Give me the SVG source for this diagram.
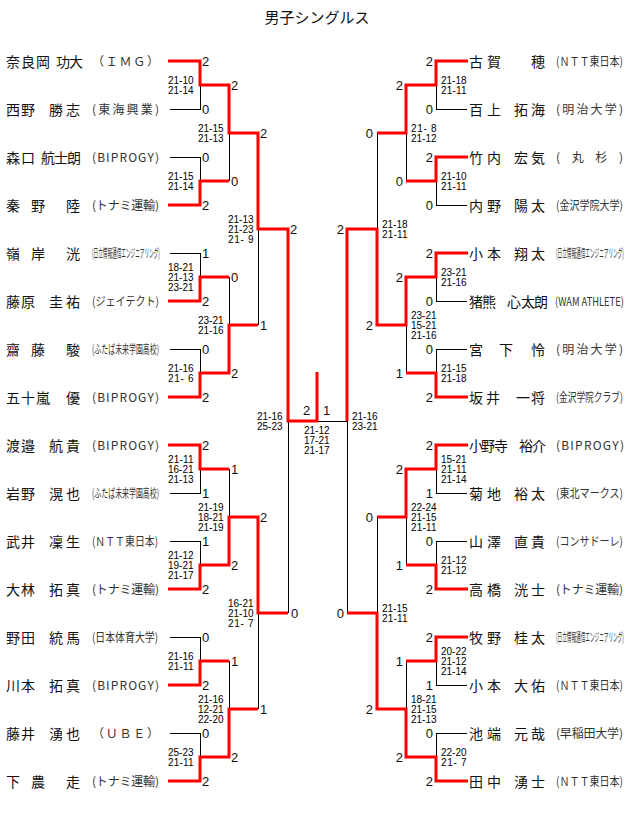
<svg xmlns="http://www.w3.org/2000/svg" width="631" height="832" viewBox="0 0 631 832">
<style>
.ttl{font-family:"Noto Sans CJK JP","Noto Sans CJK SC",sans-serif;font-size:15px;fill:#111;text-anchor:middle}
.nm{font-family:"Noto Sans CJK JP","Noto Sans CJK SC",sans-serif;font-size:14px;fill:#111}
.tm{font-family:"Noto Sans CJK JP","Noto Sans CJK SC",sans-serif;font-size:12px;fill:#333}
.sc{font-family:"Liberation Sans",Arial,sans-serif;font-size:13px;fill:#111}
.e{text-anchor:end}
.gs{font-family:"Liberation Sans",Arial,sans-serif;font-size:10px;fill:#000}
.r{stroke:#ff0000;stroke-width:3;fill:none;stroke-linejoin:miter}
.k{stroke:#000;stroke-width:1;fill:none;shape-rendering:crispEdges}
</style>
<rect width="631" height="832" fill="#fff"/>
<text class="ttl" x="317" y="23">男子シングルス</text>

<g id="connectors">
<g id="lines-black">
<path class="k" d="M170 109H200V85M170 157H200V181M170 253H200V277M170 349H200V373M170 493H200V469M170 541H200V565M170 637H200V661M170 733H200V757"/>
<path class="k" d="M229 181V133M229 277V325M229 469V517M229 661V709M258 325V229M258 709V613M288 613V421M288 421H347"/>
<path class="k" d="M467 109H436V85M467 205H436V181M467 301H436V277M467 349H436V373M467 493H436V469M467 541H436V565M467 685H436V661M467 733H436V757"/>
<path class="k" d="M406 181V133M406 373V325M406 565V517M406 661V709M377 133V229M377 517V613M347 613V421"/>
</g>
<g id="lines-red">
<path class="r" d="M168 61H200V85H229V133H258V229H288V421H317V372"/>
<path class="r" d="M168 205H200V181H229"/>
<path class="r" d="M168 301H200V277H229"/>
<path class="r" d="M168 397H200V373H229V325H258"/>
<path class="r" d="M168 445H200V469H229"/>
<path class="r" d="M168 589H200V565H229V517H258V613H288"/>
<path class="r" d="M168 685H200V661H229"/>
<path class="r" d="M168 781H200V757H229V709H258"/>
<path class="r" d="M468 61H436V85H406V133H377"/>
<path class="r" d="M468 157H436V181H406"/>
<path class="r" d="M468 253H436V277H406V325H377V229H347V421"/>
<path class="r" d="M468 397H436V373H406"/>
<path class="r" d="M468 445H436V469H406V517H377"/>
<path class="r" d="M468 589H436V565H406"/>
<path class="r" d="M468 637H436V661H406"/>
<path class="r" d="M468 781H436V757H406V709H377V613H347"/>
</g>
</g>

<g id="players-left">
<g id="pL1"><text class="nm" x="6 21 36 56 69" y="67">奈良岡功大</text><text class="tm" x="92" y="66" textLength="67" lengthAdjust="spacing">（ＩＭＧ）</text></g>
<g id="pL2"><text class="nm" x="6 21 49 66" y="115">西野勝志</text><text class="tm" x="92" y="114" textLength="67" lengthAdjust="spacing">(東海興業)</text></g>
<g id="pL3"><text class="nm" x="6 21 41 54 67" y="163">森口航士朗</text><text class="tm" x="92" y="162" textLength="67" lengthAdjust="spacing">(BIPROGY)</text></g>
<g id="pL4"><text class="nm" x="6 31 66" y="211">秦野陸</text><text class="tm" x="92" y="210" textLength="67" lengthAdjust="spacing">(トナミ運輸)</text></g>
<g id="pL5"><text class="nm" x="6 31 66" y="259">嶺岸洸</text><text class="tm" transform="translate(92 258) scale(0.386 1)" x="0" y="0" textLength="176" lengthAdjust="spacingAndGlyphs">(日立情報通信エンジニアリング)</text></g>
<g id="pL6"><text class="nm" x="6 21 49 66" y="307">藤原圭祐</text><text class="tm" transform="translate(92 306) scale(0.8375 1)" x="0" y="0" textLength="80" lengthAdjust="spacingAndGlyphs">(ジェイテクト)</text></g>
<g id="pL7"><text class="nm" x="6 31 66" y="355">齋藤駿</text><text class="tm" transform="translate(92 354) scale(0.578 1)" x="0" y="0" textLength="116" lengthAdjust="spacingAndGlyphs">(ふたば未来学園高校)</text></g>
<g id="pL8"><text class="nm" x="6 21 36 66" y="403">五十嵐優</text><text class="tm" x="92" y="402" textLength="67" lengthAdjust="spacing">(BIPROGY)</text></g>
<g id="pL9"><text class="nm" x="6 21 49 66" y="451">渡邉航貴</text><text class="tm" x="92" y="450" textLength="67" lengthAdjust="spacing">(BIPROGY)</text></g>
<g id="pL10"><text class="nm" x="6 21 49 66" y="499">岩野滉也</text><text class="tm" transform="translate(92 498) scale(0.578 1)" x="0" y="0" textLength="116" lengthAdjust="spacingAndGlyphs">(ふたば未来学園高校)</text></g>
<g id="pL11"><text class="nm" x="6 21 49 66" y="547">武井凜生</text><text class="tm" transform="translate(92 546) scale(0.825 1)" x="0" y="0" textLength="80" lengthAdjust="spacingAndGlyphs">(ＮＴＴ東日本)</text></g>
<g id="pL12"><text class="nm" x="6 21 49 66" y="595">大林拓真</text><text class="tm" x="92" y="594" textLength="67" lengthAdjust="spacing">(トナミ運輸)</text></g>
<g id="pL13"><text class="nm" x="6 21 49 66" y="643">野田統馬</text><text class="tm" transform="translate(92 642) scale(0.825 1)" x="0" y="0" textLength="80" lengthAdjust="spacingAndGlyphs">(日本体育大学)</text></g>
<g id="pL14"><text class="nm" x="6 21 49 66" y="691">川本拓真</text><text class="tm" x="92" y="690" textLength="67" lengthAdjust="spacing">(BIPROGY)</text></g>
<g id="pL15"><text class="nm" x="6 21 49 66" y="739">藤井湧也</text><text class="tm" x="92" y="738" textLength="67" lengthAdjust="spacing">（ＵＢＥ）</text></g>
<g id="pL16"><text class="nm" x="6 31 66" y="787">下農走</text><text class="tm" x="92" y="786" textLength="67" lengthAdjust="spacing">(トナミ運輸)</text></g>
</g>

<g id="players-right">
<g id="pR1"><text class="nm" x="469 487 531" y="67">古賀穂</text><text class="tm" transform="translate(556 66) scale(0.8375 1)" x="0" y="0" textLength="80" lengthAdjust="spacingAndGlyphs">(ＮＴＴ東日本)</text></g>
<g id="pR2"><text class="nm" x="469 487 514 531" y="115">百上拓海</text><text class="tm" x="556" y="114" textLength="67" lengthAdjust="spacing">(明治大学)</text></g>
<g id="pR3"><text class="nm" x="469 487 514 531" y="163">竹内宏気</text><text class="tm" x="556" y="162" textLength="67" lengthAdjust="spacing">(丸杉)</text></g>
<g id="pR4"><text class="nm" x="469 487 514 531" y="211">内野陽太</text><text class="tm" transform="translate(556 210) scale(0.8375 1)" x="0" y="0" textLength="80" lengthAdjust="spacingAndGlyphs">(金沢学院大学)</text></g>
<g id="pR5"><text class="nm" x="469 487 514 531" y="259">小本翔太</text><text class="tm" transform="translate(556 258) scale(0.386 1)" x="0" y="0" textLength="176" lengthAdjust="spacingAndGlyphs">(日立情報通信エンジニアリング)</text></g>
<g id="pR6"><text class="nm" x="469 482 507 521 534" y="307">猪熊心太朗</text><text class="tm" transform="translate(555 306) scale(0.8 1)" x="0" y="0" textLength="86" lengthAdjust="spacingAndGlyphs">(WAM ATHLETE)</text></g>
<g id="pR7"><text class="nm" x="469 499 531" y="355">宮下怜</text><text class="tm" x="556" y="354" textLength="67" lengthAdjust="spacing">(明治大学)</text></g>
<g id="pR8"><text class="nm" x="469 486 516 531" y="403">坂井一将</text><text class="tm" transform="translate(556 402) scale(0.728 1)" x="0" y="0" textLength="92" lengthAdjust="spacingAndGlyphs">(金沢学院クラブ)</text></g>
<g id="pR9"><text class="nm" x="469 481 494 519 532" y="451">小野寺裕介</text><text class="tm" x="556" y="450" textLength="68" lengthAdjust="spacing">(BIPROGY)</text></g>
<g id="pR10"><text class="nm" x="469 487 514 531" y="499">菊地裕太</text><text class="tm" transform="translate(556 498) scale(0.8375 1)" x="0" y="0" textLength="80" lengthAdjust="spacingAndGlyphs">(東北マークス)</text></g>
<g id="pR11"><text class="nm" x="469 487 514 531" y="547">山澤直貴</text><text class="tm" transform="translate(556 546) scale(0.8375 1)" x="0" y="0" textLength="80" lengthAdjust="spacingAndGlyphs">(コンサドーレ)</text></g>
<g id="pR12"><text class="nm" x="469 487 514 531" y="595">高橋洸士</text><text class="tm" x="556" y="594" textLength="67" lengthAdjust="spacing">(トナミ運輸)</text></g>
<g id="pR13"><text class="nm" x="469 487 514 531" y="643">牧野桂太</text><text class="tm" transform="translate(556 642) scale(0.386 1)" x="0" y="0" textLength="176" lengthAdjust="spacingAndGlyphs">(日立情報通信エンジニアリング)</text></g>
<g id="pR14"><text class="nm" x="469 487 514 531" y="691">小本大佑</text><text class="tm" transform="translate(556 690) scale(0.8375 1)" x="0" y="0" textLength="80" lengthAdjust="spacingAndGlyphs">(ＮＴＴ東日本)</text></g>
<g id="pR15"><text class="nm" x="469 487 514 531" y="739">池端元哉</text><text class="tm" x="556" y="738" textLength="67" lengthAdjust="spacing">(早稲田大学)</text></g>
<g id="pR16"><text class="nm" x="469 487 514 531" y="787">田中湧士</text><text class="tm" transform="translate(556 786) scale(0.8375 1)" x="0" y="0" textLength="80" lengthAdjust="spacingAndGlyphs">(ＮＴＴ東日本)</text></g>
</g>

<g id="results-left">
<text class="sc" x="202" y="66">2</text><text class="sc" x="202" y="114">0</text>
<text class="sc" x="202" y="162">0</text><text class="sc" x="202" y="210">2</text>
<text class="sc" x="202" y="258">1</text><text class="sc" x="202" y="306">2</text>
<text class="sc" x="202" y="354">0</text><text class="sc" x="202" y="402">2</text>
<text class="sc" x="202" y="450">2</text><text class="sc" x="202" y="498">1</text>
<text class="sc" x="202" y="546">1</text><text class="sc" x="202" y="594">2</text>
<text class="sc" x="202" y="642">0</text><text class="sc" x="202" y="690">2</text>
<text class="sc" x="202" y="738">0</text><text class="sc" x="202" y="786">2</text>
<text class="sc" x="231" y="90">2</text><text class="sc" x="231" y="186">0</text>
<text class="sc" x="231" y="282">0</text><text class="sc" x="231" y="378">2</text>
<text class="sc" x="231" y="474">1</text><text class="sc" x="231" y="570">2</text>
<text class="sc" x="231" y="666">1</text><text class="sc" x="231" y="762">2</text>
<text class="sc" x="260" y="138">2</text><text class="sc" x="260" y="330">1</text>
<text class="sc" x="260" y="522">2</text><text class="sc" x="260" y="714">1</text>
<text class="sc" x="290" y="234">2</text><text class="sc" x="291" y="618">0</text>
<text class="sc" x="303" y="415">2</text><text class="sc" x="323" y="415">1</text>
</g>

<g id="results-right">
<text class="sc e" x="433" y="66">2</text><text class="sc e" x="433" y="114">0</text>
<text class="sc e" x="433" y="162">2</text><text class="sc e" x="433" y="210">0</text>
<text class="sc e" x="433" y="258">2</text><text class="sc e" x="433" y="306">0</text>
<text class="sc e" x="433" y="354">0</text><text class="sc e" x="433" y="402">2</text>
<text class="sc e" x="433" y="450">2</text><text class="sc e" x="433" y="498">1</text>
<text class="sc e" x="433" y="546">0</text><text class="sc e" x="433" y="594">2</text>
<text class="sc e" x="433" y="642">2</text><text class="sc e" x="433" y="690">1</text>
<text class="sc e" x="433" y="738">0</text><text class="sc e" x="433" y="786">2</text>
<text class="sc e" x="403" y="90">2</text><text class="sc e" x="403" y="186">0</text>
<text class="sc e" x="403" y="282">2</text><text class="sc e" x="403" y="378">1</text>
<text class="sc e" x="403" y="474">2</text><text class="sc e" x="403" y="570">1</text>
<text class="sc e" x="403" y="666">1</text><text class="sc e" x="403" y="762">2</text>
<text class="sc e" x="373" y="138">0</text><text class="sc e" x="373" y="330">2</text>
<text class="sc e" x="373" y="522">0</text><text class="sc e" x="373" y="714">2</text>
<text class="sc e" x="344" y="234">2</text><text class="sc e" x="344" y="618">0</text>
</g>

<g id="game-scores-left">
<text class="gs" x="168" y="84" textLength="25.5">21-10</text><text class="gs" x="168" y="94" textLength="25.5">21-14</text>
<text class="gs" x="168" y="180" textLength="25.5">21-15</text><text class="gs" x="168" y="190" textLength="25.5">21-14</text>
<text class="gs" x="168" y="271" textLength="25.5">18-21</text><text class="gs" x="168" y="281" textLength="25.5">21-13</text><text class="gs" x="168" y="291" textLength="25.5">23-21</text>
<text class="gs" x="168" y="372" textLength="25.5">21-16</text><text class="gs" x="168" y="382" textLength="25.5">21- 6</text>
<text class="gs" x="168" y="463" textLength="25.5">21-11</text><text class="gs" x="168" y="473" textLength="25.5">16-21</text><text class="gs" x="168" y="483" textLength="25.5">21-13</text>
<text class="gs" x="168" y="559" textLength="25.5">21-12</text><text class="gs" x="168" y="569" textLength="25.5">19-21</text><text class="gs" x="168" y="579" textLength="25.5">21-17</text>
<text class="gs" x="168" y="660" textLength="25.5">21-16</text><text class="gs" x="168" y="670" textLength="25.5">21-11</text>
<text class="gs" x="168" y="756" textLength="25.5">25-23</text><text class="gs" x="168" y="766" textLength="25.5">21-11</text>
<text class="gs" x="198" y="132" textLength="25.5">21-15</text><text class="gs" x="198" y="142" textLength="25.5">21-13</text>
<text class="gs" x="198" y="324" textLength="25.5">23-21</text><text class="gs" x="198" y="334" textLength="25.5">21-16</text>
<text class="gs" x="198" y="511" textLength="25.5">21-19</text><text class="gs" x="198" y="521" textLength="25.5">18-21</text><text class="gs" x="198" y="531" textLength="25.5">21-19</text>
<text class="gs" x="198" y="703" textLength="25.5">21-16</text><text class="gs" x="198" y="713" textLength="25.5">12-21</text><text class="gs" x="198" y="723" textLength="25.5">22-20</text>
<text class="gs" x="228" y="223" textLength="25.5">21-13</text><text class="gs" x="228" y="233" textLength="25.5">21-23</text><text class="gs" x="228" y="243" textLength="25.5">21- 9</text>
<text class="gs" x="228" y="607" textLength="25.5">16-21</text><text class="gs" x="228" y="617" textLength="25.5">21-10</text><text class="gs" x="228" y="627" textLength="25.5">21- 7</text>
<text class="gs" x="257" y="420" textLength="25.5">21-16</text><text class="gs" x="257" y="430" textLength="25.5">25-23</text>
</g>

<g id="game-scores-final">
<text class="gs" x="304" y="434" textLength="25.5">21-12</text><text class="gs" x="304" y="444" textLength="25.5">17-21</text><text class="gs" x="304" y="454" textLength="25.5">21-17</text>
</g>

<g id="game-scores-right">
<text class="gs" x="352" y="420" textLength="25.5">21-16</text><text class="gs" x="352" y="430" textLength="25.5">23-21</text>
<text class="gs" x="382" y="228" textLength="25.5">21-18</text><text class="gs" x="382" y="238" textLength="25.5">21-11</text>
<text class="gs" x="382" y="612" textLength="25.5">21-15</text><text class="gs" x="382" y="622" textLength="25.5">21-11</text>
<text class="gs" x="411" y="132" textLength="25.5">21- 8</text><text class="gs" x="411" y="142" textLength="25.5">21-12</text>
<text class="gs" x="411" y="319" textLength="25.5">23-21</text><text class="gs" x="411" y="329" textLength="25.5">15-21</text><text class="gs" x="411" y="339" textLength="25.5">21-16</text>
<text class="gs" x="411" y="511" textLength="25.5">22-24</text><text class="gs" x="411" y="521" textLength="25.5">21-15</text><text class="gs" x="411" y="531" textLength="25.5">21-11</text>
<text class="gs" x="411" y="703" textLength="25.5">18-21</text><text class="gs" x="411" y="713" textLength="25.5">21-15</text><text class="gs" x="411" y="723" textLength="25.5">21-13</text>
<text class="gs" x="441" y="84" textLength="25.5">21-18</text><text class="gs" x="441" y="94" textLength="25.5">21-11</text>
<text class="gs" x="441" y="180" textLength="25.5">21-10</text><text class="gs" x="441" y="190" textLength="25.5">21-11</text>
<text class="gs" x="441" y="276" textLength="25.5">23-21</text><text class="gs" x="441" y="286" textLength="25.5">21-16</text>
<text class="gs" x="441" y="372" textLength="25.5">21-15</text><text class="gs" x="441" y="382" textLength="25.5">21-18</text>
<text class="gs" x="441" y="463" textLength="25.5">15-21</text><text class="gs" x="441" y="473" textLength="25.5">21-11</text><text class="gs" x="441" y="483" textLength="25.5">21-14</text>
<text class="gs" x="441" y="564" textLength="25.5">21-12</text><text class="gs" x="441" y="574" textLength="25.5">21-12</text>
<text class="gs" x="441" y="655" textLength="25.5">20-22</text><text class="gs" x="441" y="665" textLength="25.5">21-12</text><text class="gs" x="441" y="675" textLength="25.5">21-14</text>
<text class="gs" x="441" y="756" textLength="25.5">22-20</text><text class="gs" x="441" y="766" textLength="25.5">21- 7</text>
</g>
</svg>
